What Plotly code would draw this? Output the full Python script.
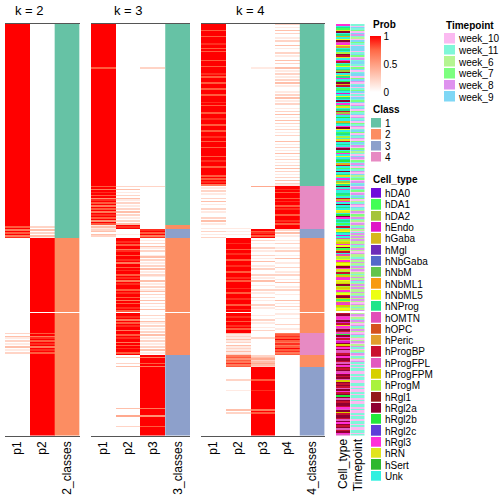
import plotly.graph_objects as go

W = H = 504
N_TOP, N_BOT = 192, 82

# ---------------- data (digit d -> probability d/9), run-length lists ----------------
K2_P1_TOP = [(134, '9'), '979697968', (49, '0')]
K2_P1_BOT = [(13, '0'), '20310201030102', (55, '0')]
K2_P2_TOP = [(134, '0'), '020302031', (49, '9')]
K2_P2_BOT = [(13, '9'), '79689798969897', (55, '9')]
K2_CLS_TOP = [(143, '1'), (49, '2')]
K2_CLS_BOT = [(82, '2')]

K3_P1_TOP = [(29, '9'), '7', (77, '9'), '979698979' '589796979' '698979597', '131', '230320', (49, '0')]
K3_P1_BOT = [(82, '0')]
K3_P2_TOP = [(107, '0'), '020301020' '310201020' '302010203', '989', '000100',
             '998979968' '997998969' '979899798' '969899979' '899796979' '9897']
K3_P2_BOT = ['998969798' '996997989' '969798997' '9',
             '0300020300' '0000000000' '0000000000' '0000030000' '4000000200' '0000']
K3_P3_TOP = [(29, '0'), '2', (78, '0'), '2', (25, '0'), '000', '897968',
             '010203102' '001302010' '203010210' '030102013' '020103020' '1030']
K3_P3_BOT = ['020103102' '010203010' '201020301' '0',
             '9699979699' '9999999999' '9999999999' '9999969999' '5999999799' '9999']
K3_CLS_TOP = [(134, '1'), (3, '2'), (6, '3'), (49, '2')]
K3_CLS_BOT = [(28, '2'), (54, '3')]

K4_P1_TOP = ['999979997' '999989979' '799999799' '979999897' '999799979' '997999989'
             '799997999' '899979997' '999899799' '979999979' '989997999' '997979896',
             '010201002' '030100201' '000203010' '01020102', (49, '0')]
K4_P1_BOT = [(82, '0')]
K4_P2_TOP = [(136, '0'), '1', '010100',
             '999899979' '989997999' '899979998' '979999899' '799989997' '9989']
K4_P2_BOT = ['9989979989799', '312131203121312', '67576867',
             '0000000020' '0000010000' '0000000030' '2000000000' '000000']
K4_P3_TOP = [(29, '0'), '1', (78, '0'), '4', (28, '0'), '978979',
             '020100201' '002010300' '102000201' '030010020' '100201002' '0100']
K4_P3_BOT = ['0100201001020', '000200000000000', '23423432',
             '9999999979' '9999989999' '9999999969' '7999999999' '999999']
K4_P4_TOP = ['201030200' '102003010' '020100302' '003010201' '020301000' '102030102'
             '001020301' '030201020' '102000301' '020103010' '201020302' '010203021',
             '998979997' '989979899' '979998979' '99', '203010',
             '010200102' '001030010' '020010200' '103001020' '010003010' '2010']
K4_P4_BOT = ['1001000200100', '678797686797867', '00000000', (46, '0')]
K4_CLS_TOP = [(108, '1'), (29, '4'), (6, '3'), (49, '2')]
K4_CLS_BOT = [(13, '2'), (15, '4'), (8, '2'), (46, '3')]

CELL_TYPES = ['hDA0', 'hDA1', 'hDA2', 'hEndo', 'hGaba', 'hMgl', 'hNbGaba', 'hNbM', 'hNbML1',
              'hNbML5', 'hNProg', 'hOMTN', 'hOPC', 'hPeric', 'hProgBP', 'hProgFPL', 'hProgFPM',
              'hProgM', 'hRgl1', 'hRgl2a', 'hRgl2b', 'hRgl2c', 'hRgl3', 'hRN', 'hSert', 'Unk']
CELL_CODES = 'abcdefghijklmnopqrstuvwxyz'
CELL_TOP = ('wzkbxtzkezjtlwjn' 'zkzrtoxzwozbjzkc' 'tzxkwzuteozbkzdz' 'jkztzwbxzkoclzuz'
            'zekzwtjzbkzrzxoz' 'kzltzbwzjzkuzeoz' 'bztzkxzwzcjktzlz' 'zkbzoewztzkzjxzu'
            'twzkzbzozxjkzdzl' 'rxqwjtbqozlxrjwq' 'jqtwxrobqlwjxqtr' 'qxwrjotqbxlwqrjx')
CELL_BOT = ('otlwptdoxw' 'ptolutwopd' 'tqowtplotw' 'ttoptwsotl' 'wtotpqtoto'
            'ptwotutpto' 'ttowptqott' 'optwtotpotwp')

TIMEPOINTS = ['week_10', 'week_11', 'week_6', 'week_7', 'week_8', 'week_9']
TIME_TOP = ('1051305412053105' '5501530415510350' '1550354015013501' '0513504150315041'
            '5031401530514035' '1403521054031450' '3140521304150413' '0415302140512403'
            '2412042142014242' '4224124204221424' '2142402124241242' '4224214242042124')
TIME_BOT = ('2402142041' '2420412024' '0241021401' '2041010110' '0101100110'
            '1001011010' '0110100101' '101101001101')

CLASSES = ['1', '2', '3', '4']

# ---------------- styles ----------------
PROB_SCALE = [[0, '#FFFFFF'], [0.25, '#FFCFBF'], [0.5, '#FF9E81'], [0.75, '#FF6846'], [1, '#FF0000']]
CLASS_COLORS = ['#66C2A5', '#FC8D62', '#8DA0CB', '#E78AC3']
CELL_COLORS = ['#6F0BDB', '#42FF55', '#A5C43C', '#DF17C7', '#D6B71A', '#6E2CB9', '#5468C9',
               '#63C44A', '#F79A12', '#EDFF12', '#1EE58A', '#E24FB8', '#D5521E', '#E19E2D',
               '#C9102F', '#E25ABF', '#D7D000', '#A9F23E', '#931A18', '#8F0030', '#23E83B',
               '#5F3FD8', '#FF2FD7', '#E1E41E', '#2FB82F', '#30F0E0']
TIME_COLORS = ['#FBBAF1', '#7FF7D8', '#B5F591', '#7DFF7F', '#DE92EE', '#7FD7F5']
FONT = 'Liberation Sans, Arial, sans-serif'


def expand(runs):
    return ''.join(r[1] * r[0] if isinstance(r, tuple) else r for r in runs)


def column(top, bot, conv):
    t, b = expand(top), expand(bot)
    assert len(t) == N_TOP and len(b) == N_BOT, (len(t), len(b))
    return [conv(c) for c in t] + [None] + [conv(c) for c in b]


def discrete(colors):
    n = len(colors)
    out = []
    for i, c in enumerate(colors):
        out += [[i / n, c], [(i + 1) / n, c]]
    return out


prob = lambda c: int(c) / 9
cls = lambda c: int(c)

NROWS = N_TOP + 1 + N_BOT
rows = list(range(NROWS))

panels = [
    (2, [(K2_P1_TOP, K2_P1_BOT), (K2_P2_TOP, K2_P2_BOT)], (K2_CLS_TOP, K2_CLS_BOT)),
    (3, [(K3_P1_TOP, K3_P1_BOT), (K3_P2_TOP, K3_P2_BOT), (K3_P3_TOP, K3_P3_BOT)], (K3_CLS_TOP, K3_CLS_BOT)),
    (4, [(K4_P1_TOP, K4_P1_BOT), (K4_P2_TOP, K4_P2_BOT), (K4_P3_TOP, K4_P3_BOT), (K4_P4_TOP, K4_P4_BOT)],
     (K4_CLS_TOP, K4_CLS_BOT)),
]
panel_px = [(5, 79.5), (91, 190), (201, 324.5)]

fig = go.Figure()
layout = dict(template='none', width=W, height=H,
              margin=dict(l=0, r=0, t=0, b=0, autoexpand=False),
              paper_bgcolor='white', plot_bgcolor='white', font=dict(family=FONT, color='black'),
              showlegend=False)

Y0, Y1 = 24, 435.5
ydom = [1 - Y1 / H, 1 - Y0 / H]
layout['yaxis'] = dict(domain=ydom, range=[NROWS - 0.5, -0.5], showticklabels=False,
                       showgrid=False, zeroline=False, ticks='', automargin=False)

annotations = []
for i, (k, pcols, ccol) in enumerate(panels):
    ax = '' if i == 0 else str(i + 1)
    names = ['p%d' % (j + 1) for j in range(k)]
    cname = '%d_classes' % k
    cols = [column(t, b, prob) for t, b in pcols]
    z = [[c[r] for c in cols] for r in rows]
    fig.add_trace(go.Heatmap(z=z, x=list(range(k)), y=rows, xaxis='x' + ax, yaxis='y',
                             colorscale=PROB_SCALE, zmin=0, zmax=1, showscale=(i == 0),
                             hoverinfo='skip',
                             colorbar=dict(x=370 / W, xanchor='left', xpad=0, ypad=0,
                                           y=1 - 36 / H, yanchor='top', len=56 / H, lenmode='fraction',
                                           thickness=11, outlinewidth=0, ticks='',
                                           tickvals=[0, 0.5, 1], ticktext=['0', '0.5', '1'],
                                           tickfont=dict(size=10, family=FONT))))
    cv = column(ccol[0], ccol[1], cls)
    fig.add_trace(go.Heatmap(z=[[v] for v in cv], x=[k], y=rows, xaxis='x' + ax, yaxis='y',
                             colorscale=discrete(CLASS_COLORS), zmin=0.5, zmax=4.5,
                             showscale=False, hoverinfo='skip'))
    x0, x1 = panel_px[i]
    layout['xaxis' + ax] = dict(domain=[x0 / W, x1 / W], anchor='y', range=[-0.5, k + 0.5],
                                tickmode='array', tickvals=list(range(k + 1)), ticktext=names + [cname],
                                tickangle=-90, ticks='', tickfont=dict(size=12, family=FONT),
                                showline=True, mirror=True, linecolor='#555555', linewidth=1,
                                showgrid=False, zeroline=False, automargin=False)
    annotations.append(dict(text='k = %d' % k, x=(k - 1) / 2, xref='x' + ax, y=1 - 10 / H, yref='paper',
                            showarrow=False, font=dict(size=13, family=FONT), yanchor='middle'))

# annotation columns
assert len(CELL_TOP) == N_TOP and len(CELL_BOT) == N_BOT, (len(CELL_TOP), len(CELL_BOT))
assert len(TIME_TOP) == N_TOP and len(TIME_BOT) == N_BOT, (len(TIME_TOP), len(TIME_BOT))
cell_idx = {c: j for j, c in enumerate(CELL_CODES)}
cell_col = [None if v is None else cell_idx[v] for v in
            [c for c in CELL_TOP] + [None] + [c for c in CELL_BOT]]
time_col = [None if v is None else int(v) for v in
            [c for c in TIME_TOP] + [None] + [c for c in TIME_BOT]]
fig.add_trace(go.Heatmap(z=[[v] for v in cell_col], x=[0], y=rows, xaxis='x4', yaxis='y',
                         colorscale=discrete(CELL_COLORS), zmin=-0.5, zmax=len(CELL_COLORS) - 0.5,
                         showscale=False, xgap=1, hoverinfo='skip'))
fig.add_trace(go.Heatmap(z=[[v] for v in time_col], x=[1], y=rows, xaxis='x4', yaxis='y',
                         colorscale=discrete(TIME_COLORS), zmin=-0.5, zmax=len(TIME_COLORS) - 0.5,
                         showscale=False, xgap=1, hoverinfo='skip'))
layout['xaxis4'] = dict(domain=[336 / W, 365 / W], anchor='y', range=[-0.5, 1.5],
                        tickmode='array', tickvals=[0, 1], ticktext=['Cell_type', 'Timepoint'],
                        tickangle=-90, ticks='', tickfont=dict(size=12, family=FONT),
                        showline=False, showgrid=False, zeroline=False, automargin=False)

# legends as small heatmaps
legend_specs = [
    ('5', CLASSES, CLASS_COLORS, (371, 381), (118, 163), 1.5),
    ('6', CELL_TYPES, CELL_COLORS, (371, 381), (188, 482), 1.3),
    ('7', TIMEPOINTS, TIME_COLORS, (444, 455), (33, 103), 1.5),
]
for ax, labels, colors, (lx0, lx1), (ly0, ly1), gap in legend_specs:
    n = len(labels)
    fig.add_trace(go.Heatmap(z=[[j] for j in range(n)], x=[0], y=list(range(n)),
                             xaxis='x' + ax, yaxis='y' + ax, colorscale=discrete(colors),
                             zmin=-0.5, zmax=n - 0.5, showscale=False, ygap=gap,
                             hoverinfo='skip'))
    layout['xaxis' + ax] = dict(domain=[lx0 / W, lx1 / W], anchor='y' + ax, visible=False,
                                range=[-0.5, 0.5], automargin=False)
    layout['yaxis' + ax] = dict(domain=[1 - ly1 / H, 1 - ly0 / H], anchor='x' + ax, side='right',
                                range=[n - 0.5, -0.5], tickmode='array', tickvals=list(range(n)),
                                ticktext=labels, ticks='', ticklen=0, ticklabelstandoff=3,
                                tickfont=dict(size=10, family=FONT), showgrid=False,
                                zeroline=False, showline=False, automargin=False)

for text, px, py in [('Prob', 371, 24), ('Class', 371, 109), ('Cell_type', 371, 179.5),
                     ('Timepoint', 444, 25)]:
    annotations.append(dict(text='<b>%s</b>' % text, x=px / W, y=1 - py / H, xref='paper', yref='paper',
                            xanchor='left', yanchor='middle', showarrow=False,
                            font=dict(size=10, family=FONT)))

layout['annotations'] = annotations
fig.update_layout(**layout)
fig.write_html('out.html', config={'displayModeBar': False},
               post_script="document.body.style.margin='0';document.body.style.padding='0';")
